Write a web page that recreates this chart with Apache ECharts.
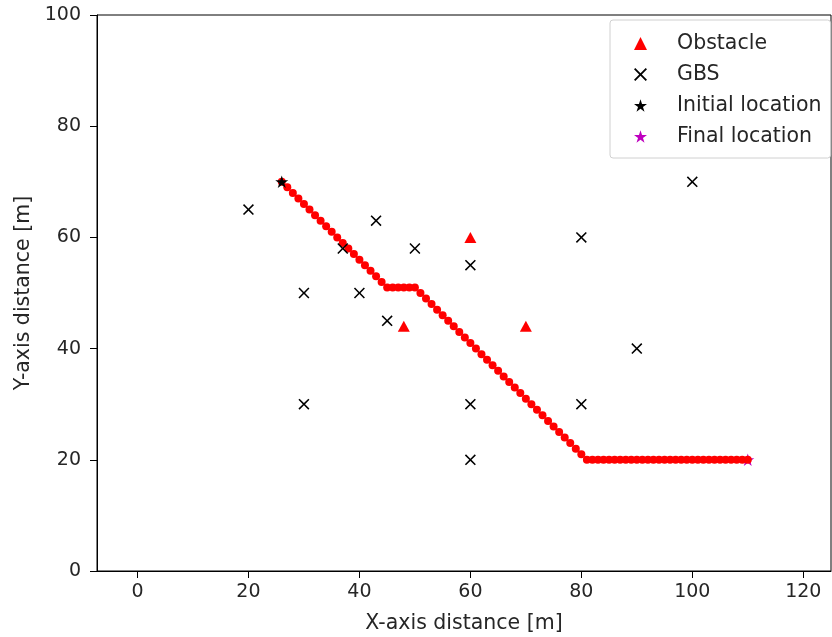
<!DOCTYPE html>
<html>
<head>
<meta charset="utf-8">
<script src="https://cdn.jsdelivr.net/npm/echarts@6/dist/echarts.min.js"></script>
<style>
  html, body { margin: 0; padding: 0; background: #fff; }
  #chart { width: 832px; height: 637px; }
</style>
</head>
<body>
<div id="chart"></div>
<script>
// obstacles (red triangles)
const obstacleX = [48, 60, 70];
const obstacleY = [44, 60, 44];
// ground base stations
const gbsX = [20, 30, 30, 37, 40, 43, 45, 50, 60, 60, 60, 80, 80, 90, 100];
const gbsY = [65, 50, 30, 58, 50, 63, 45, 58, 55, 30, 20, 60, 30, 40, 70];
// start / end
const initialLoc = [26, 70];
const finalLoc = [110, 20];
// trajectory dots
const pathX = [26, 27, 28, 29, 30, 31, 32, 33, 34, 35, 36, 37, 38, 39, 40, 41, 42, 43, 44, 45,
  46, 47, 48, 49, 50,
  51, 52, 53, 54, 55, 56, 57, 58, 59, 60, 61, 62, 63, 64, 65, 66, 67, 68, 69, 70, 71, 72, 73, 74, 75, 76, 77, 78, 79, 80, 81,
  82, 83, 84, 85, 86, 87, 88, 89, 90, 91, 92, 93, 94, 95, 96, 97, 98, 99, 100, 101, 102, 103, 104, 105, 106, 107, 108, 109, 110];
const pathY = [70, 69, 68, 67, 66, 65, 64, 63, 62, 61, 60, 59, 58, 57, 56, 55, 54, 53, 52, 51,
  51, 51, 51, 51, 51,
  50, 49, 48, 47, 46, 45, 44, 43, 42, 41, 40, 39, 38, 37, 36, 35, 34, 33, 32, 31, 30, 29, 28, 27, 26, 25, 24, 23, 22, 21, 20,
  20, 20, 20, 20, 20, 20, 20, 20, 20, 20, 20, 20, 20, 20, 20, 20, 20, 20, 20, 20, 20, 20, 20, 20, 20, 20, 20, 20, 20];
const xTicks = [0, 20, 40, 60, 80, 100, 120];

const zip = (xs, ys) => xs.map((x, i) => [x, ys[i]]);

const STAR = 'path://M50,0L61.2,34.6L97.6,34.5L68.1,55.9L79.4,90.5L50,69L20.6,90.5L31.9,55.9L2.4,34.5L38.8,34.6Z';
const CROSS = 'path://M0,1L1,0L5,4L9,0L10,1L6,5L10,9L9,10L5,6L1,10L0,9L4,5Z';
const FONT = 'DejaVu Sans';
const TXT = '#262626';

var chart = echarts.init(document.getElementById('chart'), null, { renderer: 'canvas' });

var option = {
  animation: false,
  textStyle: { fontFamily: FONT, color: TXT },
  grid: {
    left: 97, right: 1, top: 15, bottom: 66,
    outerBoundsMode: 'none',
    show: true, borderColor: '#000', borderWidth: 1, backgroundColor: 'transparent'
  },
  legend: {
    orient: 'vertical',
    left: 610, top: 20,
    padding: [13, 9, 11, 24],
    itemWidth: 13, itemHeight: 13,
    itemGap: 10,
    borderColor: '#d0d0d0', borderWidth: 1, borderRadius: 3,
    textStyle: { fontFamily: FONT, fontSize: 20.5, color: TXT, lineHeight: 20, padding: [0, 0, 0, 25] },
    data: ['Obstacle', 'GBS', 'Initial location', 'Final location']
  },
  xAxis: {
    type: 'value', min: -7.3, max: 125,
    name: 'X-axis distance [m]', nameLocation: 'middle', nameGap: 42,
    nameTextStyle: { fontFamily: FONT, fontSize: 20.5, color: TXT },
    axisLine: { show: true, onZero: false, lineStyle: { color: '#000' } },
    axisTick: { show: true, length: 7, lineStyle: { color: '#000' }, customValues: xTicks },
    axisLabel: { fontFamily: FONT, fontSize: 19, color: TXT, margin: 12, customValues: xTicks },
    splitLine: { show: false }
  },
  yAxis: {
    type: 'value', min: 0, max: 100, interval: 20,
    name: 'Y-axis distance [m]', nameLocation: 'middle', nameGap: 63,
    nameTextStyle: { fontFamily: FONT, fontSize: 20.5, color: TXT },
    axisLine: { show: true, onZero: false, lineStyle: { color: '#000' } },
    axisTick: { show: true, length: 7, lineStyle: { color: '#000' } },
    axisLabel: { fontFamily: FONT, fontSize: 19, color: TXT, margin: 16 },
    splitLine: { show: false }
  },
  series: [
    {
      name: 'Obstacle', type: 'scatter', symbol: 'triangle', symbolSize: [12, 11],
      itemStyle: { color: '#ff0000', opacity: 1 },
      data: zip(obstacleX, obstacleY), z: 2
    },
    {
      name: 'Final location', type: 'scatter', symbol: STAR, symbolSize: 13, symbolKeepAspect: true,
      itemStyle: { color: '#bf00bf', opacity: 1 },
      data: [finalLoc], z: 3
    },
    {
      name: 'path', type: 'scatter', symbol: 'circle', symbolSize: 8,
      itemStyle: { color: '#ff0000', opacity: 1 },
      data: zip(pathX, pathY), z: 4
    },
    {
      name: 'GBS', type: 'scatter', symbol: CROSS, symbolSize: 11, symbolKeepAspect: true,
      itemStyle: { color: '#000', opacity: 1 },
      data: zip(gbsX, gbsY), z: 5
    },
    {
      name: 'Initial location', type: 'scatter', symbol: STAR, symbolSize: 13, symbolKeepAspect: true,
      itemStyle: { color: '#000', opacity: 1 },
      data: [initialLoc], z: 6
    }
  ]
};

option && chart.setOption(option);
</script>
</body>
</html>
